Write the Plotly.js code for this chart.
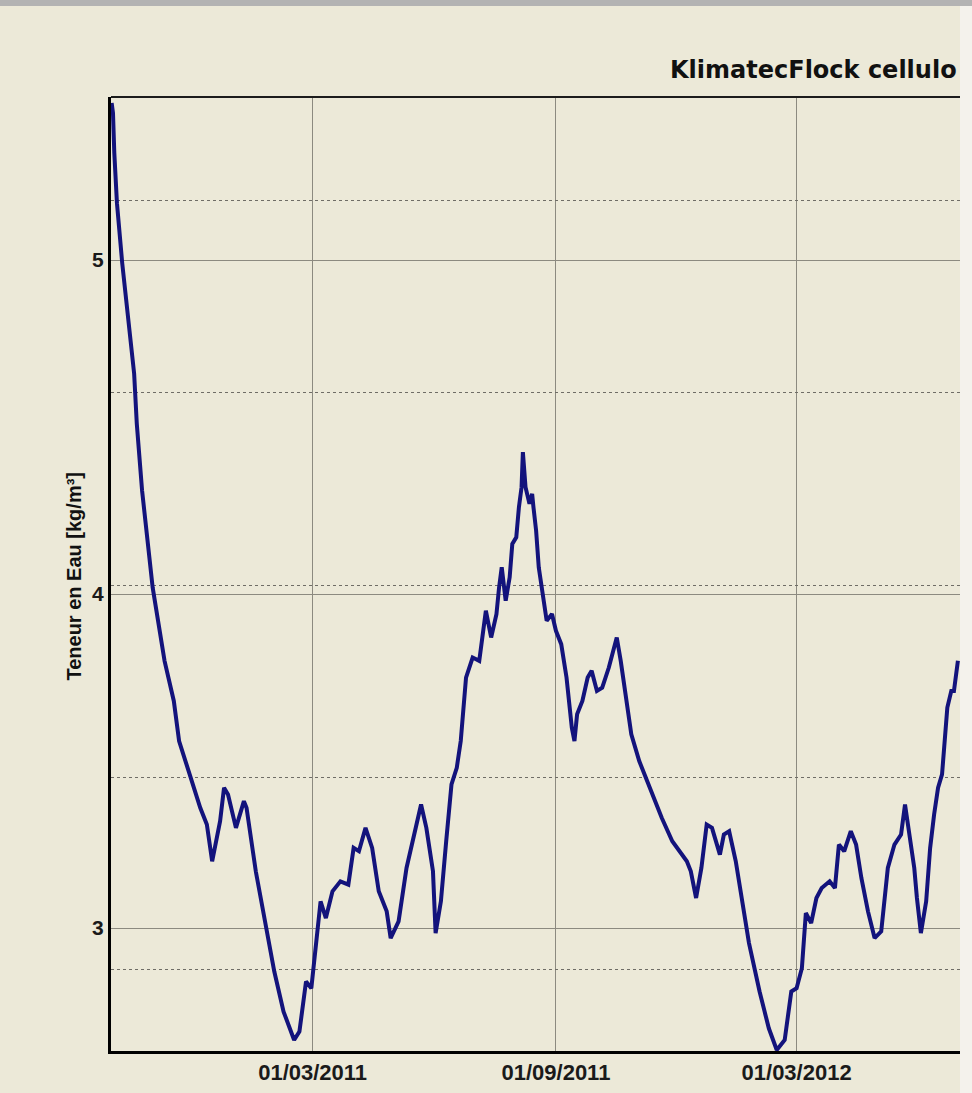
<!DOCTYPE html>
<html>
<head>
<meta charset="utf-8">
<script src="https://cdn.plot.ly/plotly-3.0.1.min.js"></script>
<style>
  html, body { margin: 0; padding: 0; background: #ECE9D8; }
  #chart { width: 972px; height: 1093px; }
</style>
</head>
<body>
<div id="chart"></div>
<script>
// ---- Data ----
const dates = [
  "2010-09-30","2010-10-01","2010-10-02","2010-10-04","2010-10-08","2010-10-13","2010-10-17","2010-10-19",
  "2010-10-23","2010-10-31","2010-11-09","2010-11-16","2010-11-20","2010-11-28","2010-12-06","2010-12-11",
  "2010-12-15","2010-12-21","2010-12-24","2010-12-27","2011-01-02","2011-01-08","2011-01-10","2011-01-17",
  "2011-01-25","2011-01-31","2011-02-07","2011-02-15","2011-02-19","2011-02-24","2011-02-28","2011-03-04",
  "2011-03-07","2011-03-11","2011-03-16","2011-03-22","2011-03-28","2011-04-01","2011-04-05","2011-04-10",
  "2011-04-15","2011-04-20","2011-04-26","2011-04-29","2011-05-05","2011-05-11","2011-05-15","2011-05-22",
  "2011-05-26","2011-05-31","2011-06-02","2011-06-06","2011-06-10","2011-06-12","2011-06-14","2011-06-18",
  "2011-06-21","2011-06-25","2011-06-30","2011-07-05","2011-07-10","2011-07-14","2011-07-18","2011-07-20",
  "2011-07-22","2011-07-25","2011-07-28","2011-07-30","2011-08-02","2011-08-04","2011-08-06","2011-08-07",
  "2011-08-09","2011-08-12","2011-08-14","2011-08-15","2011-08-17","2011-08-19","2011-08-22","2011-08-25",
  "2011-08-29","2011-09-01","2011-09-05","2011-09-09","2011-09-13","2011-09-15","2011-09-17","2011-09-21",
  "2011-09-25","2011-09-28","2011-10-02","2011-10-06","2011-10-11","2011-10-17","2011-10-20","2011-10-24",
  "2011-10-28","2011-11-03","2011-11-11","2011-11-20","2011-11-28","2011-12-09","2011-12-12","2011-12-16",
  "2011-12-20","2011-12-24","2011-12-28","2012-01-03","2012-01-06","2012-01-10","2012-01-15","2012-01-20",
  "2012-01-25","2012-02-02","2012-02-09","2012-02-15","2012-02-21","2012-02-26","2012-03-01","2012-03-05",
  "2012-03-08","2012-03-12","2012-03-16","2012-03-20","2012-03-26","2012-03-30","2012-04-02","2012-04-06",
  "2012-04-11","2012-04-15","2012-04-19","2012-04-24","2012-04-29","2012-05-04","2012-05-09","2012-05-14",
  "2012-05-19","2012-05-22","2012-05-25","2012-05-29","2012-05-31","2012-06-03","2012-06-07","2012-06-10",
  "2012-06-13","2012-06-16","2012-06-19","2012-06-21","2012-06-23","2012-06-26","2012-06-28","2012-07-01"
];
const waterContent = [
  5.47,5.44,5.32,5.17,4.99,4.81,4.66,4.51,
  4.31,4.02,3.80,3.68,3.56,3.46,3.36,3.31,
  3.20,3.32,3.42,3.40,3.30,3.38,3.36,3.17,
  2.99,2.87,2.75,2.665,2.69,2.84,2.82,2.96,
  3.08,3.03,3.11,3.14,3.13,3.24,3.23,3.30,
  3.24,3.11,3.05,2.97,3.02,3.18,3.25,3.37,
  3.30,3.17,2.985,3.08,3.26,3.36,3.43,3.48,
  3.56,3.75,3.81,3.80,3.95,3.87,3.94,4.02,
  4.08,3.98,4.05,4.15,4.17,4.26,4.32,4.425,
  4.32,4.27,4.30,4.26,4.19,4.08,4.00,3.92,
  3.94,3.89,3.85,3.75,3.60,3.56,3.64,3.68,
  3.75,3.77,3.71,3.72,3.78,3.87,3.80,3.69,
  3.58,3.50,3.42,3.33,3.26,3.20,3.17,3.09,
  3.18,3.31,3.30,3.22,3.28,3.29,3.20,3.08,
  2.955,2.81,2.70,2.635,2.665,2.81,2.82,2.88,
  3.045,3.015,3.09,3.12,3.14,3.12,3.25,3.23,
  3.29,3.25,3.15,3.05,2.97,2.99,3.18,3.25,
  3.28,3.37,3.29,3.18,3.09,2.985,3.08,3.24,
  3.34,3.42,3.46,3.55,3.66,3.71,3.71,3.80
];
const xTickDates  = ["2011-03-01", "2011-09-01", "2012-03-01"];
const xTickLabels = ["01/03/2011", "01/09/2011", "01/03/2012"];
const yTickValues = [3, 4, 5];
const titleText  = "KlimatecFlock cellulo";
const yTitleText = "Teneur en Eau [kg/m³]";

const BG = "#ECE9D8";
const GRID = "#8c8a80";

const traces = [
  {
    x: dates, y: waterContent, type: "scatter", mode: "lines",
    line: { color: "#13137c", width: 4 },
    hoverinfo: "skip", showlegend: false
  },
  { x: [], y: [], yaxis: "y2", type: "scatter", mode: "lines", hoverinfo: "skip", showlegend: false }
];

const layout = {
  width: 972, height: 1093,
  margin: { l: 111, r: 12, t: 97, b: 42, pad: 0 },
  paper_bgcolor: BG, plot_bgcolor: BG,
  showlegend: false,
  font: { family: "Liberation Sans, Arial, sans-serif", color: "#111111" },
  xaxis: {
    type: "date",
    range: ["2010-09-29 12:00", "2012-07-02 14:00"],
    tickmode: "array", tickvals: xTickDates, ticktext: xTickLabels,
    tickfont: { family: "Liberation Sans, Arial, sans-serif", size: 22, weight: "bold", color: "#1a1a1a" },
    ticks: "", showgrid: true, gridcolor: GRID, gridwidth: 1,
    showline: true, linecolor: "#000000", linewidth: 3,
    zeroline: false, fixedrange: true
  },
  yaxis: {
    range: [2.632, 5.488],
    tickmode: "array", tickvals: yTickValues,
    tickfont: { family: "Liberation Sans, Arial, sans-serif", size: 21, weight: "bold", color: "#1a1a1a" },
    ticks: "", showgrid: true, gridcolor: GRID, gridwidth: 1,
    showline: true, linecolor: "#000000", linewidth: 3,
    zeroline: false, fixedrange: true
  },
  yaxis2: {
    overlaying: "y", side: "right",
    range: [-0.426, 4.541], tick0: 0, dtick: 1,
    showticklabels: false, ticks: "",
    showgrid: true, griddash: "dot", gridcolor: "#6f6d66", gridwidth: 1,
    showline: false, zeroline: false, fixedrange: true
  },
  shapes: [
    { type: "line", xref: "paper", yref: "paper", x0: 0, x1: 1, y0: 1, y1: 1,
      line: { color: "#1c1c1c", width: 2 } },
    { type: "rect", xref: "paper", yref: "paper", x0: -0.14, x1: 1.02, y0: 1.0954, y1: 1.12,
      fillcolor: "#b3b3b3", line: { width: 0 } },
    { type: "rect", xref: "paper", yref: "paper", x0: 1.0, x1: 1.02, y0: -0.06, y1: 1.0954,
      fillcolor: "#f4f2ec", line: { width: 0 } }
  ],
  annotations: [
    { text: titleText, xref: "paper", yref: "paper", x: 0.9985, y: 1.028,
      xanchor: "right", yanchor: "middle", showarrow: false,
      font: { family: "DejaVu Sans, Verdana, sans-serif", size: 24, weight: "bold", color: "#111111" } },
    { text: yTitleText, xref: "paper", yref: "paper", x: -0.044, y: 0.498,
      xanchor: "center", yanchor: "middle", textangle: -90, showarrow: false,
      font: { family: "Liberation Sans, Arial, sans-serif", size: 20, weight: "bold", color: "#111111" } }
  ]
};

Plotly.newPlot("chart", traces, layout, { staticPlot: true, displayModeBar: false });
</script>
</body>
</html>
